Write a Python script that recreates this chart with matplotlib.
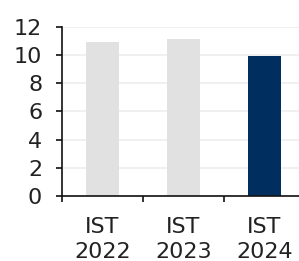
import numpy as np
import matplotlib.pyplot as plt

labels = ['IST\n2022', 'IST\n2023', 'IST\n2024']
values = [10.9, 11.15, 9.95]
colors = ['#e1e1e1', '#e1e1e1', '#002f5f']

plt.rcParams['font.family'] = 'DejaVu Sans'

fig = plt.figure(figsize=(2.99, 2.61), dpi=100)
ax = fig.add_axes([0.2074, 0.249, 0.7926, 0.6476])

x = np.arange(len(labels))
ax.bar(x, values, width=0.41, color=colors, zorder=2)

ax.set_ylim(0, 12)
ax.set_yticks(np.arange(0, 13, 2))
ax.set_xlim(-0.5, 2.43)
ax.set_xticks(x)
ax.set_xticklabels(labels, linespacing=1.3)
ax.set_xticks([-0.5, 0.5, 1.5], minor=True)

ax.grid(axis='y', color='#eeeeee', linewidth=1.2, zorder=0)
ax.set_axisbelow(True)

for s in ['top', 'right']:
    ax.spines[s].set_visible(False)
for s in ['left', 'bottom']:
    ax.spines[s].set_color('#111111')
    ax.spines[s].set_linewidth(1.2)

ax.tick_params(axis='y', length=4.3, width=1.2, pad=10, labelsize=16,
               labelcolor='#222222', color='#111111')
ax.tick_params(axis='x', which='major', length=0, pad=15, labelsize=16,
               labelcolor='#222222')
ax.tick_params(axis='x', which='minor', length=4.3, width=1.2, color='#111111')

fig.savefig('out.png', dpi=100)
